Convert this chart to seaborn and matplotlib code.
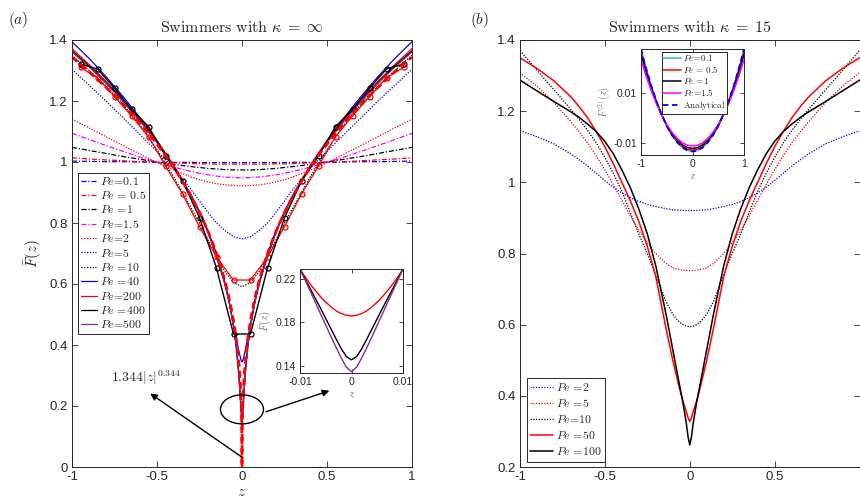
import numpy as np
import matplotlib
matplotlib.use("Agg")
import matplotlib.pyplot as plt
import seaborn as sns
from matplotlib.patches import Ellipse

# ---------------- panel (a): swimmers with kappa = infinity ----------------
# smooth profiles sampled on z >= 0 (the profiles are even in z)
Z_SMOOTH = [0, 0.05, 0.1, 0.15, 0.2, 0.25, 0.3, 0.4, 0.5, 0.6, 0.7, 0.8, 0.9, 1.0]
F_PE_0_1 = [0.998, 0.998, 0.998, 0.998, 0.998, 0.998, 0.999, 0.999, 0.999, 1.000, 1.001, 1.001, 1.002, 1.003]
F_PE_0_5 = [0.993, 0.993, 0.993, 0.993, 0.994, 0.994, 0.995, 0.997, 0.999, 1.001, 1.004, 1.007, 1.010, 1.014]
F_PE_1 = [0.974, 0.974, 0.975, 0.977, 0.979, 0.982, 0.985, 0.992, 1.000, 1.009, 1.018, 1.028, 1.038, 1.048]
F_PE_1_5 = [0.948, 0.949, 0.951, 0.954, 0.958, 0.963, 0.969, 0.983, 0.999, 1.016, 1.035, 1.054, 1.074, 1.094]
F_PE_2 = [0.922, 0.923, 0.925, 0.929, 0.935, 0.942, 0.951, 0.973, 0.998, 1.026, 1.054, 1.083, 1.112, 1.140]
F_PE_5 = [0.748, 0.755, 0.775, 0.800, 0.835, 0.872, 0.910, 0.980, 1.035, 1.090, 1.145, 1.200, 1.252, 1.304]
F_PE_10 = [0.591, 0.605, 0.640, 0.690, 0.745, 0.800, 0.850, 0.950, 1.040, 1.120, 1.190, 1.250, 1.300, 1.350]

# sharp profiles need a finer sampling close to the centre line
Z_SHARP = [0, 0.001, 0.002, 0.003, 0.004, 0.005, 0.006, 0.007, 0.008, 0.009, 0.01,
           0.02, 0.035, 0.05, 0.075, 0.1, 0.15, 0.2, 0.25, 0.3, 0.4, 0.5, 0.6, 0.7,
           0.8, 0.9, 1.0]
F_PE_40 = [0.345, 0.3453, 0.346, 0.347, 0.348, 0.3495, 0.351, 0.353, 0.355, 0.3575, 0.360,
           0.385, 0.425, 0.465, 0.540, 0.600, 0.690, 0.770, 0.835, 0.890, 0.985, 1.070,
           1.145, 1.215, 1.280, 1.340, 1.394]
F_PE_200 = [0.186, 0.1866, 0.1882, 0.1908, 0.1944, 0.1987, 0.2036, 0.2091, 0.2152, 0.2218, 0.229,
            0.320, 0.405, 0.465, 0.545, 0.605, 0.700, 0.775, 0.838, 0.892, 0.988, 1.070,
            1.140, 1.205, 1.265, 1.320, 1.372]
F_PE_400 = [0.1457, 0.1487, 0.1560, 0.1650, 0.1743, 0.1836, 0.1929, 0.2019, 0.2109, 0.2199, 0.229,
            0.312, 0.400, 0.462, 0.540, 0.600, 0.695, 0.772, 0.836, 0.890, 0.985, 1.066,
            1.136, 1.200, 1.260, 1.315, 1.365]
F_PE_500 = [0.1348, 0.1390, 0.1475, 0.1572, 0.1672, 0.1775, 0.1878, 0.1983, 0.2086, 0.2189, 0.229,
            0.308, 0.398, 0.460, 0.538, 0.598, 0.693, 0.770, 0.834, 0.888, 0.983, 1.064,
            1.134, 1.198, 1.258, 1.312, 1.360]
N_WALL = 11  # samples with |z| <= 0.01 shown in the close-up

# coarse-grid simulation points
Z_SIM = [0.05, 0.15, 0.25, 0.35, 0.45, 0.55, 0.65, 0.75, 0.85, 0.95]
F_SIM_RED = [0.613, 0.688, 0.788, 0.895, 0.987, 1.083, 1.151, 1.214, 1.276, 1.310]
F_SIM_BLACK = [0.436, 0.652, 0.817, 0.938, 1.020, 1.116, 1.173, 1.242, 1.305, 1.321]

# power-law fit near the centre line
FIT_COEF = 1.344
FIT_EXP = 0.344

# ---------------- panel (b): swimmers with kappa = 15 ----------------
Z_B = [0, 0.01, 0.02, 0.04, 0.06, 0.08, 0.1, 0.14, 0.2, 0.25, 0.3, 0.35, 0.4, 0.45,
       0.5, 0.55, 0.6, 0.65, 0.7, 0.8, 0.9, 1.0]
G_PE_2 = [0.921, 0.921, 0.921, 0.921, 0.922, 0.922, 0.923, 0.926, 0.932, 0.938, 0.946,
          0.957, 0.970, 0.986, 1.005, 1.025, 1.045, 1.063, 1.080, 1.108, 1.128, 1.145]
G_PE_5 = [0.752, 0.752, 0.752, 0.753, 0.755, 0.757, 0.760, 0.772, 0.800, 0.830, 0.865,
          0.905, 0.950, 0.993, 1.035, 1.074, 1.110, 1.141, 1.170, 1.225, 1.270, 1.308]
G_PE_10 = [0.594, 0.595, 0.596, 0.600, 0.607, 0.617, 0.630, 0.665, 0.740, 0.800, 0.855,
           0.915, 0.975, 1.025, 1.070, 1.110, 1.145, 1.176, 1.205, 1.260, 1.315, 1.370]
G_PE_50 = [0.328, 0.338, 0.355, 0.385, 0.420, 0.460, 0.500, 0.590, 0.735, 0.820, 0.890,
           0.948, 1.000, 1.052, 1.100, 1.142, 1.180, 1.212, 1.240, 1.285, 1.320, 1.350]
G_PE_100 = [0.262, 0.285, 0.322, 0.380, 0.430, 0.480, 0.530, 0.630, 0.765, 0.855, 0.925,
            0.985, 1.035, 1.080, 1.115, 1.142, 1.163, 1.182, 1.198, 1.227, 1.257, 1.287]

# second-order correction F^(2)(z)
Z_IN = [0, 0.1, 0.2, 0.3, 0.4, 0.5, 0.6, 0.7, 0.8, 0.9, 1.0]
H_PE_0_1 = [-0.0132, -0.0128, -0.0116, -0.0095, -0.0067, -0.0030, 0.0015, 0.0067, 0.0128, 0.0198, 0.0275]
H_PE_0_5 = [-0.0128, -0.0124, -0.0112, -0.0092, -0.0065, -0.0029, 0.0014, 0.0066, 0.0125, 0.0192, 0.0267]
H_PE_1 = [-0.0121, -0.0117, -0.0106, -0.0087, -0.0061, -0.0027, 0.0014, 0.0063, 0.0120, 0.0184, 0.0255]
H_PE_1_5 = [-0.0111, -0.0108, -0.0097, -0.0080, -0.0056, -0.0025, 0.0013, 0.0058, 0.0110, 0.0168, 0.0234]
H_ANALYTIC = [-0.0133, -0.0129, -0.0117, -0.0096, -0.0067, -0.0031, 0.0015, 0.0068, 0.0129, 0.0199, 0.0277]


def mirror(z, f):
    """Extend an even profile given on z >= 0 to the full channel."""
    z = np.asarray(z, float)
    f = np.asarray(f, float)
    if z[0] == 0:
        return np.concatenate([-z[:0:-1], z]), np.concatenate([f[:0:-1], f])
    return np.concatenate([-z[::-1], z]), np.concatenate([f[::-1], f])


sns.set_style("white")
plt.rcParams.update({
    "font.family": ["Liberation Sans", "DejaVu Sans"],
    "mathtext.fontset": "cm",
    "axes.edgecolor": "#262626",
    "axes.linewidth": 0.7,
    "xtick.color": "#262626",
    "ytick.color": "#262626",
    "xtick.direction": "in",
    "ytick.direction": "in",
    "xtick.major.size": 4,
    "ytick.major.size": 4,
    "xtick.major.width": 0.6,
    "ytick.major.width": 0.6,
    "xtick.top": True,
    "ytick.right": True,
    "xtick.bottom": True,
    "ytick.left": True,
    "legend.frameon": True,
})

W, H = 860, 504
fig = plt.figure(figsize=(W / 100, H / 100), dpi=100)


def px_axes(x0, y0, x1, y1):
    return fig.add_axes([x0 / W, 1 - y1 / H, (x1 - x0) / W, (y1 - y0) / H])


DASHDOT = (0, (4, 1.5, 1, 1.5))
DOT = (0, (1, 1.2))


def draw(ax, z, f, color, ls, lw=0.9, label=None, **kw):
    zz, ff = mirror(z, f)
    sns.lineplot(x=zz, y=ff, ax=ax, color=color, linestyle=ls, linewidth=lw,
                 sort=False, estimator=None, legend=False, **kw)
    line = ax.lines[-1]
    if label is not None:
        line.set_label(label)
    return line


def style_ticks(ax, size):
    ax.tick_params(labelsize=size, pad=3)
    for s in ax.spines.values():
        s.set_visible(True)


PURPLE = (0.494, 0.184, 0.556)
TITLE_A = r"$\mathrm{Swimmers\ with}\ \kappa\;=\;\infty$"
TITLE_B = r"$\mathrm{Swimmers\ with}\ \kappa\;=\;15$"

# ---------------- panel (a) ----------------
axa = px_axes(72, 40, 412, 467)
handles_a = [
    draw(axa, Z_SMOOTH, F_PE_0_1, "blue", DASHDOT, label=r"$Pe\!=\!0.1$"),
    draw(axa, Z_SMOOTH, F_PE_0_5, "red", DASHDOT, label=r"$Pe\,=\,0.5$"),
    draw(axa, Z_SMOOTH, F_PE_1, "black", DASHDOT, label=r"$Pe\ \!=\!1$"),
    draw(axa, Z_SMOOTH, F_PE_1_5, "magenta", DASHDOT, label=r"$Pe\!=\!1.5$"),
    draw(axa, Z_SMOOTH, F_PE_2, "red", DOT, label=r"$Pe\!=\!2$"),
    draw(axa, Z_SMOOTH, F_PE_5, "blue", DOT, label=r"$Pe\!=\!5$"),
    draw(axa, Z_SMOOTH, F_PE_10, "black", DOT, label=r"$Pe\ \!=\!10$"),
    draw(axa, Z_SHARP, F_PE_40, "blue", "-", label=r"$Pe\ \!=\!40$"),
    draw(axa, Z_SHARP, F_PE_200, "red", "-", label=r"$Pe\!=\!200$"),
    draw(axa, Z_SHARP, F_PE_400, "black", "-", label=r"$Pe\ \!=\!400$"),
    draw(axa, Z_SHARP, F_PE_500, PURPLE, "-", label=r"$Pe\!=\!500$"),
]
draw(axa, Z_SIM, F_SIM_RED, "red", "-", lw=0.9, marker="o", markersize=3.6,
     markerfacecolor="none", markeredgecolor="red", markeredgewidth=0.9)
draw(axa, Z_SIM, F_SIM_BLACK, "black", "-", lw=1.0, marker="o", markersize=3.6,
     markerfacecolor="none", markeredgecolor="black", markeredgewidth=0.9)

z_fit = np.linspace(-1, 1, 2001)
sns.lineplot(x=z_fit, y=FIT_COEF * np.abs(z_fit) ** FIT_EXP, ax=axa, color="red",
             linestyle=(0, (2.6, 1.4)), linewidth=2.0, sort=False, estimator=None,
             legend=False)

axa.set_xlim(-1, 1)
axa.set_ylim(0, 1.4)
axa.set_xticks([-1, -0.5, 0, 0.5, 1])
axa.set_xticklabels(["-1", "-0.5", "0", "0.5", "1"])
axa.set_yticks([0, 0.2, 0.4, 0.6, 0.8, 1.0, 1.2, 1.4])
axa.set_yticklabels(["0", "0.2", "0.4", "0.6", "0.8", "1", "1.2", "1.4"])
style_ticks(axa, 9.5)
axa.set_xlabel(r"$z$", fontsize=11, labelpad=1)
axa.set_ylabel(r"$\bar{F}(z)$", fontsize=11, labelpad=4)
axa.set_title(TITLE_A, fontsize=11.5, pad=6)

leg = axa.legend(handles=handles_a, loc="upper left", bbox_to_anchor=(0.018, 0.689),
                 borderaxespad=0, fontsize=8.5, handlelength=1.35, handletextpad=0.25,
                 labelspacing=0.2, borderpad=0.25, fancybox=False, framealpha=1)
leg.get_frame().set_edgecolor("#262626")
leg.get_frame().set_linewidth(0.7)

# highlighted region around the centre line and call-outs
axa.add_patch(Ellipse((0, 0.189), width=0.253, height=0.095, fill=False,
                      edgecolor="black", linewidth=1.0, zorder=6))
axa.annotate("", xy=(-0.54, 0.241), xytext=(0, 0.032),
             arrowprops=dict(arrowstyle="-|>", color="black", lw=1.0,
                             mutation_scale=10, shrinkA=0, shrinkB=0), zorder=6)
axa.annotate("", xy=(0.514, 0.250), xytext=(0.141, 0.181),
             arrowprops=dict(arrowstyle="-|>", color="black", lw=1.0,
                             mutation_scale=10, shrinkA=0, shrinkB=0), zorder=6)
axa.text(-0.565, 0.292, rf"${FIT_COEF}|z|^{{{FIT_EXP}}}$", fontsize=10,
         ha="center", va="center")

# close-up of the centre region
ins_a = px_axes(300, 269, 403, 373)
draw(ins_a, Z_SHARP[:N_WALL], F_PE_200[:N_WALL], "red", "-", lw=1.0)
draw(ins_a, Z_SHARP[:N_WALL], F_PE_400[:N_WALL], "black", "-", lw=1.0)
draw(ins_a, Z_SHARP[:N_WALL], F_PE_500[:N_WALL], PURPLE, "-", lw=1.0)
ins_a.set_xlim(-0.01, 0.01)
ins_a.set_ylim(0.1336, 0.2291)
ins_a.set_xticks([-0.01, 0, 0.01])
ins_a.set_xticklabels(["-0.01", "0", "0.01"])
ins_a.set_yticks([0.14, 0.18, 0.22])
ins_a.set_yticklabels(["0.14", "0.18", "0.22"])
style_ticks(ins_a, 7.5)
ins_a.tick_params(length=3)
ins_a.set_xlabel(r"$z$", fontsize=8, color="#808080", labelpad=1)
ins_a.set_ylabel(r"$\bar{F}(z)$", fontsize=8, color="#808080", labelpad=1)

# ---------------- panel (b) ----------------
axb = px_axes(520, 40, 859.5, 467)
handles_b = [
    draw(axb, Z_B, G_PE_2, "blue", DOT, label=r"$Pe\ \!=\!2$"),
    draw(axb, Z_B, G_PE_5, "red", DOT, label=r"$Pe\ \!=\!5$"),
    draw(axb, Z_B, G_PE_10, "black", DOT, label=r"$Pe\!=\!10$"),
    draw(axb, Z_B, G_PE_50, "red", "-", lw=1.1, label=r"$Pe\ \!=\!50$"),
    draw(axb, Z_B, G_PE_100, "black", "-", lw=1.1, label=r"$Pe\ \!=\!100$"),
]
axb.set_xlim(-1, 1)
axb.set_ylim(0.2, 1.4)
axb.set_xticks([-1, -0.5, 0, 0.5, 1])
axb.set_xticklabels(["-1", "-0.5", "0", "0.5", ""])
axb.set_yticks([0.2, 0.4, 0.6, 0.8, 1.0, 1.2, 1.4])
axb.set_yticklabels(["0.2", "0.4", "0.6", "0.8", "1", "1.2", "1.4"])
style_ticks(axb, 9.5)
axb.set_title(TITLE_B, fontsize=11.5, pad=6)
legb = axb.legend(handles=handles_b, loc="lower left", bbox_to_anchor=(0.02, 0.012),
                  borderaxespad=0, fontsize=8.5, handlelength=1.9, handletextpad=0.25,
                  labelspacing=0.35, borderpad=0.3, fancybox=False, framealpha=1)
legb.get_frame().set_edgecolor("#262626")
legb.get_frame().set_linewidth(0.7)

ins_b = px_axes(641, 49, 744, 155)
hb = [
    draw(ins_b, Z_IN, H_PE_0_1, (0.301, 0.745, 0.933), "-", lw=1.3, label=r"$Pe\!=\!0.1$"),
    draw(ins_b, Z_IN, H_PE_0_5, "red", "-", lw=1.1, label=r"$Pe\,=\,0.5$"),
    draw(ins_b, Z_IN, H_PE_1, "black", "-", lw=1.1, label=r"$Pe\ \!=\!1$"),
    draw(ins_b, Z_IN, H_PE_1_5, "magenta", "-", lw=1.1, label=r"$Pe\!=\!1.5$"),
    draw(ins_b, Z_IN, H_ANALYTIC, "blue", (0, (3, 2)), lw=1.3, label=r"$\mathrm{Analytical}$"),
]
ins_b.set_xlim(-1, 1)
ins_b.set_ylim(-0.0147, 0.0277)
ins_b.set_xticks([-1, 0, 1])
ins_b.set_xticklabels(["-1", "0", "1"])
ins_b.set_yticks([-0.01, 0.01])
ins_b.set_yticklabels(["-0.01", "0.01"])
style_ticks(ins_b, 7.5)
ins_b.tick_params(length=3)
ins_b.set_xlabel(r"$z$", fontsize=8, color="#808080", labelpad=1)
ins_b.set_ylabel(r"$F^{(2)}(z)$", fontsize=7.5, color="#808080", labelpad=1)
legi = ins_b.legend(handles=hb, loc="upper left", bbox_to_anchor=(0.2, 0.975),
                    borderaxespad=0, fontsize=6.5, handlelength=2.0, handletextpad=0.2,
                    labelspacing=0.1, borderpad=0.2, fancybox=False, framealpha=1)
legi.get_frame().set_edgecolor("#262626")
legi.get_frame().set_linewidth(0.7)

# panel tags
fig.text(8 / W, 1 - 20 / H, r"$(a)$", fontsize=11, va="center", ha="left")
fig.text(470 / W, 1 - 20 / H, r"$(b)$", fontsize=11, va="center", ha="left")

fig.savefig("out.png", dpi=100)
